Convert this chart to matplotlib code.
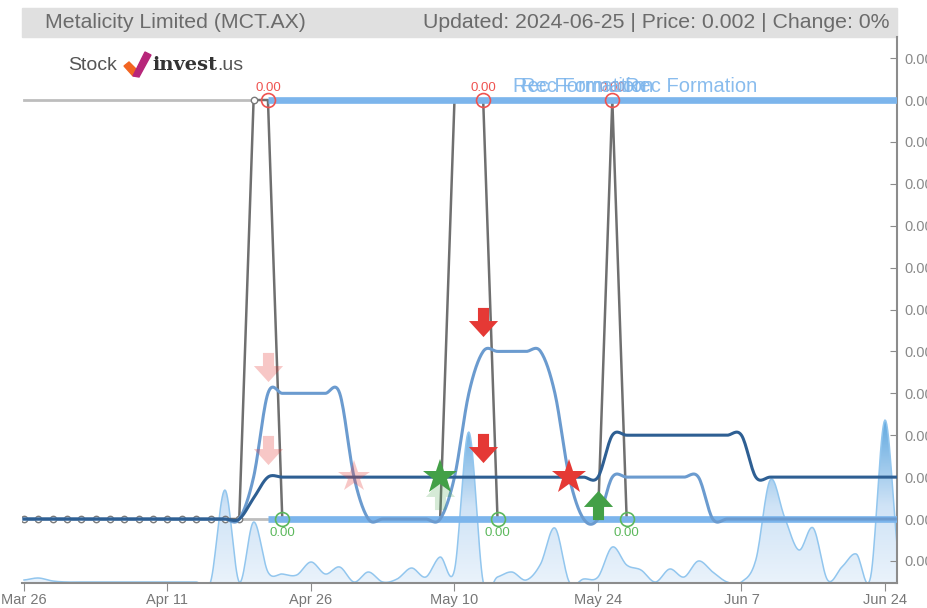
import matplotlib
matplotlib.use('Agg')
import matplotlib.pyplot as plt
import numpy as np
from matplotlib.path import Path
from matplotlib.patches import Rectangle, Polygon
from matplotlib.colors import LinearSegmentedColormap

plt.rcParams['font.family'] = ['Liberation Sans', 'DejaVu Sans']

## data (x = trading day index, 0 = Mar 26)
tick_idx = [0, 10, 20, 30, 40, 50, 60]
tick_labels = ['Mar 26', 'Apr 11', 'Apr 26', 'May 10', 'May 24', 'Jun 7', 'Jun 24']
price_ticks = [0.0019, 0.0020, 0.0021, 0.0022, 0.0023, 0.0024, 0.0025,
               0.0026, 0.0027, 0.0028, 0.0029, 0.0030, 0.0031]

price = ([0.002] * 16 + [0.003, 0.003] + [0.002] * 12 + [0.003, 0.003, 0.003]
         + [0.002] * 8 + [0.003] + [0.002] * 20)

ma_short = ([0.002] * 16 + [0.0021] + [0.0023] * 6 + [0.0021] + [0.002] * 6
            + [0.0021, 0.0023] + [0.0024] * 5 + [0.0023, 0.0021] + [0.002] * 2
            + [0.0021] * 7 + [0.002] * 14)

ma_long = ([0.002] * 16 + [0.00205] + [0.0021] * 24 + [0.0022] * 10 + [0.0021] * 11)

volume = [2, 4, 1, 0, 0, 0, 0, 0, 0, 0, 0, 0, 0, 0, 92, 0, 60, 10, 8, 7,
          20, 8, 15, 0, 10, 0, 3, 14, 5, 25, 12, 150, 0, 5, 10, 2, 18, 54, 0, 3,
          5, 35, 17, 12, 0, 13, 5, 21, 10, 0, 0, 22, 102, 65, 32, 54, 2, 15, 28, 5,
          162, 20]

support = 0.002
resistance = 0.003
level_start = 17  # day the support / resistance lines start

# peaks (red) and troughs (green) marked on the price line
peak_idx = [17, 32, 41]
trough_idx = [18, 33, 42]

# signals: (day, price level)
sell_arrows_faded = [(17, 0.002363), (17, 0.002165)]
sell_arrows = [(32, 0.00247), (32, 0.00217)]
buy_arrows_faded = [(29, 0.002057)]
buy_arrows = [(40, 0.002033)]
sell_stars_faded = [(23, 0.0021)]
sell_stars = [(38, 0.0021)]
buy_stars = [(29, 0.0021)]

formations = [(34.08, 'Rec Formation'), (34.63, 'Rec Formation'), (41.9, 'Rec Formation')]

days = np.arange(len(price))


def smooth(x, y, n=16):
    # catmull-rom curve through the points, like the spline lines of the web chart
    x = np.asarray(x, float)
    y = np.asarray(y, float)
    xp = np.r_[2 * x[0] - x[1], x, 2 * x[-1] - x[-2]]
    yp = np.r_[y[0], y, y[-1]]
    t = np.linspace(0, 1, n, endpoint=False)[:, None]
    out = []
    for arr in (xp, yp):
        p0, p1, p2, p3 = arr[:-3], arr[1:-2], arr[2:-1], arr[3:]
        c = 0.5 * (2 * p1 + (-p0 + p2) * t + (2 * p0 - 5 * p1 + 4 * p2 - p3) * t ** 2
                   + (-p0 + 3 * p1 - 3 * p2 + p3) * t ** 3)
        out.append(np.r_[c.T.ravel(), arr[-2]])
    return out[0], out[1]


def arrow_path(up=False):
    v = np.array([(-0.38, 1), (0.38, 1), (0.38, 0.1), (1, 0.1), (0, -1), (-1, 0.1), (-0.38, 0.1), (-0.38, 1)])
    if up:
        v[:, 1] *= -1
    codes = [Path.MOVETO] + [Path.LINETO] * 6 + [Path.CLOSEPOLY]
    return Path(v, codes)


W, H = 928, 608
fig = plt.figure(figsize=(W / 100, H / 100), dpi=100)

ax_pos = [22 / W, 25 / H, (897 - 22) / W, (583 - 37) / H]
axv = fig.add_axes(ax_pos)
ax = fig.add_axes(ax_pos)
ax.set_zorder(2)
axv.set_zorder(1)
ax.patch.set_alpha(0)

xlim = (-0.14, 60.84)

## volume area with vertical gradient
vx, vy = smooth(days, volume)
grad = LinearSegmentedColormap.from_list('vol', ['#eef5fc', '#cfe3f6', '#5ea7df'])
im = axv.imshow(np.linspace(0, 1, 256).reshape(-1, 1), extent=[vx[0], vx[-1], -12, 165],
                origin='lower', aspect='auto', cmap=grad, zorder=1)
clip = Polygon(np.column_stack([np.r_[vx, vx[::-1]], np.r_[vy, np.zeros_like(vy)]]),
               closed=True, fc='none', ec='none')
axv.add_patch(clip)
im.set_clip_path(clip)
axv.plot(vx, vy, color='#92c6ee', lw=1.1, zorder=2)
axv.set_xlim(*xlim)
axv.set_ylim(-1, 545)
axv.axis('off')

## levels
ax.plot([0, level_start - 1], [resistance] * 2, color='#bdbdbd', lw=2, zorder=2)
ax.plot([0, level_start], [support] * 2, color='#bdbdbd', lw=2, zorder=2)

## price line (point markers only where the levels don't cover them)
ax.plot(days, price, color='#6f6f6f', lw=1.8, marker='o', ms=4.6, mfc='white', mec='#7a7a7a',
        mew=1, markevery=list(range(level_start)), zorder=3)

ax.plot([level_start, days[-1]], [resistance] * 2, color='#7cb5ec', lw=4.8, zorder=4,
        solid_capstyle='butt')
ax.plot([level_start, days[-1]], [support] * 2, color='#7cb5ec', lw=4.8, zorder=4,
        solid_capstyle='butt')

## moving averages
sx, sy = smooth(days, ma_short)
ax.plot(sx, sy, color='#6b9bcf', lw=2.2, zorder=5)
lx, ly = smooth(days, ma_long)
ax.plot(lx, ly, color='#2e5f93', lw=2.2, zorder=5)

## signals
red = '#e53935'
green = '#43a047'
down = arrow_path()
up = arrow_path(up=True)
for pts, mk, col, a, ms in [(sell_arrows_faded, down, red, 0.28, 21),
                            (sell_arrows, down, red, 1, 21),
                            (buy_arrows_faded, up, green, 0.22, 21),
                            (buy_arrows, up, green, 1, 21),
                            (sell_stars_faded, '*', red, 0.28, 24),
                            (sell_stars, '*', red, 1, 26),
                            (buy_stars, '*', green, 1, 26)]:
    xs = [p[0] for p in pts]
    ys = [p[1] for p in pts]
    ax.plot(xs, ys, ls='none', marker=mk, ms=ms, color=col, alpha=a, mew=0, zorder=6)

## peak / trough circles
for i in peak_idx:
    ax.plot(i, price[i], marker='o', ms=10, mfc='none', mec='#ef5350', mew=1.2, zorder=7)
    ax.annotate(f'{price[i]:.2f}', (i, price[i]), xytext=(0, 4), textcoords='offset points',
                ha='center', va='bottom', fontsize=9.5, color='#ef5350', zorder=7)
for i in trough_idx:
    ax.plot(i, price[i], marker='o', ms=10, mfc='none', mec='#5cb85c', mew=1.2, zorder=7)
    ax.annotate(f'{price[i]:.2f}', (i, price[i]), xytext=(0, -6), textcoords='offset points',
                ha='center', va='top', fontsize=9.5, color='#5cb85c', zorder=7)

for x0, txt in formations:
    ax.text(x0, 0.00302, txt, color='#7cb5ec', fontsize=14.5, ha='left', va='baseline',
            alpha=0.9, zorder=8)

## axes styling
ax.set_xlim(*xlim)
ax.set_ylim(0.0018473, 0.0031504)
ax.set_xticks(tick_idx)
ax.set_xticklabels(tick_labels)
ax.yaxis.tick_right()
ax.set_yticks(price_ticks)
ax.set_yticklabels([f'{v:.4f}' for v in price_ticks])
for s in ['top', 'left']:
    ax.spines[s].set_visible(False)
for s in ['right', 'bottom']:
    ax.spines[s].set_color('#8c8c8c')
    ax.spines[s].set_linewidth(1.5)
ax.tick_params(axis='x', direction='out', length=6, color='#8c8c8c', labelcolor='#777777',
               labelsize=10.5, pad=1)
ax.tick_params(axis='y', direction='in', length=5, color='#8c8c8c', labelcolor='#8a8a8a',
               labelsize=10.5, pad=5)

## header
fig.patches.append(Rectangle((22 / W, 1 - 37 / H), (897 - 22) / W, 29 / H,
                             transform=fig.transFigure, color='#e0e0e0', zorder=0))
fig.text(45 / W, 1 - 22.5 / H, 'Metalicity Limited (MCT.AX)', fontsize=15.3, color='#6b6b6b',
         ha='left', va='center')
fig.text(890 / W, 1 - 22.5 / H, 'Updated: 2024-06-25 | Price: 0.002 | Change: 0%', fontsize=15.3,
         color='#6b6b6b', ha='right', va='center')

## logo
fig.text(68 / W, 1 - 65 / H, 'Stock', fontsize=14, color='#555555', ha='left', va='center')
px = lambda pts: [(a / W, 1 - b / H) for a, b in pts]
fig.patches.append(Polygon(px([(124, 66), (129, 62), (137, 70), (133, 76)]),
                           transform=fig.transFigure, color='#f26522'))
fig.patches.append(Polygon(px([(133, 76), (145, 52), (151, 55), (139, 77)]),
                           transform=fig.transFigure, color='#b7267a'))
fig.text(152 / W, 1 - 65 / H, 'invest', fontsize=14, color='#333333', ha='left', va='center',
         family='DejaVu Serif', weight='bold')
fig.text(217 / W, 1 - 65 / H, '.us', fontsize=14, color='#555555', ha='left', va='center')

fig.savefig('out.png', dpi=100)
